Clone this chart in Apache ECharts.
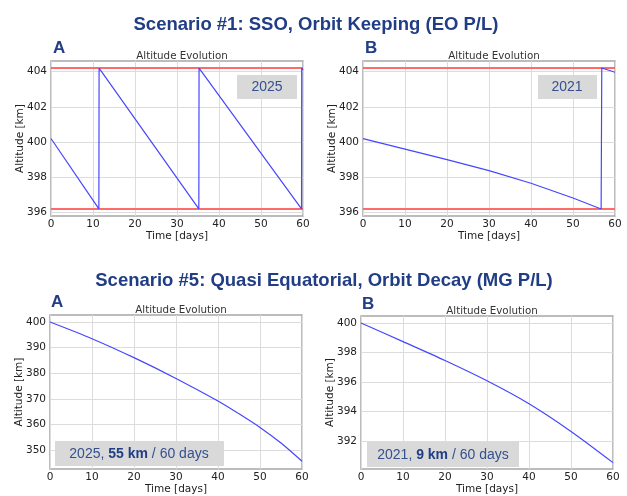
<!DOCTYPE html>
<html><head><meta charset="utf-8">
<script src="https://cdn.jsdelivr.net/npm/echarts@6/dist/echarts.min.js"></script>
<style>html,body{margin:0;padding:0;background:#fff}#c{width:627px;height:496px}</style>
</head><body><div id="c"></div>
<script>
// ---- data ----
// Scenario #1 A (2025)
const timeA1 = [0, 11.4, 11.45, 35.2, 35.25, 59.65, 59.7, 60];
const altA1  = [400.2, 396.2, 404.2, 396.2, 404.2, 396.2, 404.2, 404.1];
// Scenario #1 B (2021): decay, then reboost
const timeB1 = [0, 10, 20, 30, 40, 50, 56.7];
const altB1  = [400.19, 399.6, 399.0, 398.38, 397.66, 396.82, 396.2];
const timeB1boost = [56.7, 56.85, 60];
const altB1boost  = [396.2, 404.2, 403.96];
// limits
const limitTime = [0, 60];
const upperLimit = [404.2, 404.2];
const lowerLimit = [396.2, 396.2];
const yTicks1 = [396, 398, 400, 402, 404];
// Scenario #5 A (2025)
const timeA2 = [0, 10, 20, 30, 40, 45, 50, 55, 60];
const altA2  = [400, 393.5, 386.1, 378.0, 369.2, 364.2, 358.9, 352.8, 345.7];
const yTicksA2 = [350, 360, 370, 380, 390, 400];
// Scenario #5 B (2021)
const timeB2 = [0, 10, 20, 30, 40, 50, 60];
const altB2  = [400, 398.74, 397.46, 396.09, 394.54, 392.67, 390.56];
const yTicksB2 = [392, 394, 396, 398, 400];

const zip = (a, b) => a.map((v, i) => [v, b[i]]);

const NAVY = '#203d85';
const TXT = '#222';
const MPL = 'DejaVu Sans';
const BLUE = '#4646ff';
const RED = '#ff6b6b';
const grids = [
  {left: 51, top: 61, width: 252, height: 155},
  {left: 363, top: 61, width: 252, height: 155},
  {left: 50, top: 315, width: 252, height: 155},
  {left: 361, top: 316, width: 252, height: 154}
];
const yRanges = [[395.8, 404.6], [395.8, 404.6], [342.7, 402.73], [390.13, 400.47]];
const yTickSets = [yTicks1, yTicks1, yTicksA2, yTicksB2];

const option = {
  animation: false,
  backgroundColor: '#fff',
  title: [
    {text: 'Scenario #1: SSO, Orbit Keeping (EO P/L)', left: 311, top: 10, textAlign: 'center',
     textStyle: {fontFamily: 'Liberation Sans', fontSize: 18.5, fontWeight: 'bold', color: NAVY}},
    {text: 'Scenario #5: Quasi Equatorial, Orbit Decay (MG P/L)', left: 319, top: 266, textAlign: 'center',
     textStyle: {fontFamily: 'Liberation Sans', fontSize: 18.5, fontWeight: 'bold', color: NAVY}},
    ...grids.map(g => ({text: 'Altitude Evolution', left: g.left + g.width / 2, top: g.top - 15, textAlign: 'center',
      textStyle: {fontFamily: MPL, fontSize: 10.3, fontWeight: 'normal', color: '#333'}}))
  ],
  grid: grids.map(g => Object.assign({show: true, borderColor: '#a6a6a6', borderWidth: 1.5, backgroundColor: '#fff'}, g)),
  xAxis: grids.map((g, i) => ({
    type: 'value', gridIndex: i, min: 0, max: 60, interval: 10,
    name: 'Time [days]', nameLocation: 'middle', nameGap: 15, nameMoveOverlap: false,
    nameTextStyle: {fontFamily: MPL, fontSize: 10.5, color: TXT},
    axisLine: {show: false}, axisTick: {show: false},
    axisLabel: {fontFamily: MPL, fontSize: 10.5, color: TXT, margin: 3},
    splitLine: {lineStyle: {color: '#dcdcdc', width: 1}}
  })),
  yAxis: grids.map((g, i) => ({
    type: 'value', gridIndex: i, min: yRanges[i][0], max: yRanges[i][1],
    name: 'Altitude [km]', nameLocation: 'middle', nameGap: 25, nameMoveOverlap: false,
    nameTextStyle: {fontFamily: MPL, fontSize: 10.5, color: TXT},
    axisLine: {show: false},
    axisTick: {show: false, customValues: yTickSets[i]},
    axisLabel: {fontFamily: MPL, fontSize: 10.5, color: TXT, margin: 4, customValues: yTickSets[i]},
    splitLine: {lineStyle: {color: '#dcdcdc', width: 1}}
  })),
  series: [
    {type: 'line', xAxisIndex: 0, yAxisIndex: 0, data: zip(limitTime, upperLimit), symbol: 'none', lineStyle: {color: RED, width: 2}},
    {type: 'line', xAxisIndex: 0, yAxisIndex: 0, data: zip(limitTime, lowerLimit), symbol: 'none', lineStyle: {color: RED, width: 2}},
    {type: 'line', xAxisIndex: 0, yAxisIndex: 0, data: zip(timeA1, altA1), symbol: 'none', lineStyle: {color: BLUE, width: 1.2}},
    {type: 'line', xAxisIndex: 1, yAxisIndex: 1, data: zip(limitTime, upperLimit), symbol: 'none', lineStyle: {color: RED, width: 2}},
    {type: 'line', xAxisIndex: 1, yAxisIndex: 1, data: zip(limitTime, lowerLimit), symbol: 'none', lineStyle: {color: RED, width: 2}},
    {type: 'line', xAxisIndex: 1, yAxisIndex: 1, data: zip(timeB1, altB1), symbol: 'none', lineStyle: {color: BLUE, width: 1.2}},
    {type: 'line', xAxisIndex: 1, yAxisIndex: 1, data: zip(timeB1boost, altB1boost), symbol: 'none', lineStyle: {color: BLUE, width: 1.2}},
    {type: 'line', xAxisIndex: 2, yAxisIndex: 2, data: zip(timeA2, altA2), symbol: 'none', smooth: 0.3, lineStyle: {color: BLUE, width: 1.2}},
    {type: 'line', xAxisIndex: 3, yAxisIndex: 3, data: zip(timeB2, altB2), symbol: 'none', smooth: 0.3, lineStyle: {color: BLUE, width: 1.2}}
  ],
  graphic: [
    {type: 'text', left: 53, top: 40, style: {text: 'A', font: 'bold 17px "Liberation Sans"', fill: NAVY}},
    {type: 'text', left: 365, top: 40, style: {text: 'B', font: 'bold 17px "Liberation Sans"', fill: NAVY}},
    {type: 'text', left: 51, top: 294, style: {text: 'A', font: 'bold 17px "Liberation Sans"', fill: NAVY}},
    {type: 'text', left: 362, top: 296, style: {text: 'B', font: 'bold 17px "Liberation Sans"', fill: NAVY}},
    {type: 'rect', shape: {x: 237, y: 75, width: 60, height: 24}, style: {fill: '#d9d9d9'}, z: 10},
    {type: 'text', x: 267, y: 87, style: {text: '2025', font: '14px "Liberation Sans"', fill: '#34508f', align: 'center', verticalAlign: 'middle'}, z: 11},
    {type: 'rect', shape: {x: 538, y: 75, width: 59, height: 24}, style: {fill: '#d9d9d9'}, z: 10},
    {type: 'text', x: 567, y: 87, style: {text: '2021', font: '14px "Liberation Sans"', fill: '#34508f', align: 'center', verticalAlign: 'middle'}, z: 11},
    {type: 'rect', shape: {x: 55, y: 441, width: 169, height: 25}, style: {fill: '#d9d9d9'}, z: 10},
    {type: 'text', x: 139, y: 454, style: {text: '2025, {b|55 km} / 60 days', font: '14px "Liberation Sans"', fill: '#34508f', align: 'center', verticalAlign: 'middle',
      rich: {b: {fontFamily: 'Liberation Sans', fontSize: 14, fontWeight: 'bold', fill: NAVY}}}, z: 11},
    {type: 'rect', shape: {x: 367, y: 442, width: 152, height: 25}, style: {fill: '#d9d9d9'}, z: 10},
    {type: 'text', x: 443, y: 455, style: {text: '2021, {b|9 km} / 60 days', font: '14px "Liberation Sans"', fill: '#34508f', align: 'center', verticalAlign: 'middle',
      rich: {b: {fontFamily: 'Liberation Sans', fontSize: 14, fontWeight: 'bold', fill: NAVY}}}, z: 11}
  ]
};
const chart = echarts.init(document.getElementById('c'), null, {renderer: 'canvas'});
chart.setOption(option);
</script></body></html>
